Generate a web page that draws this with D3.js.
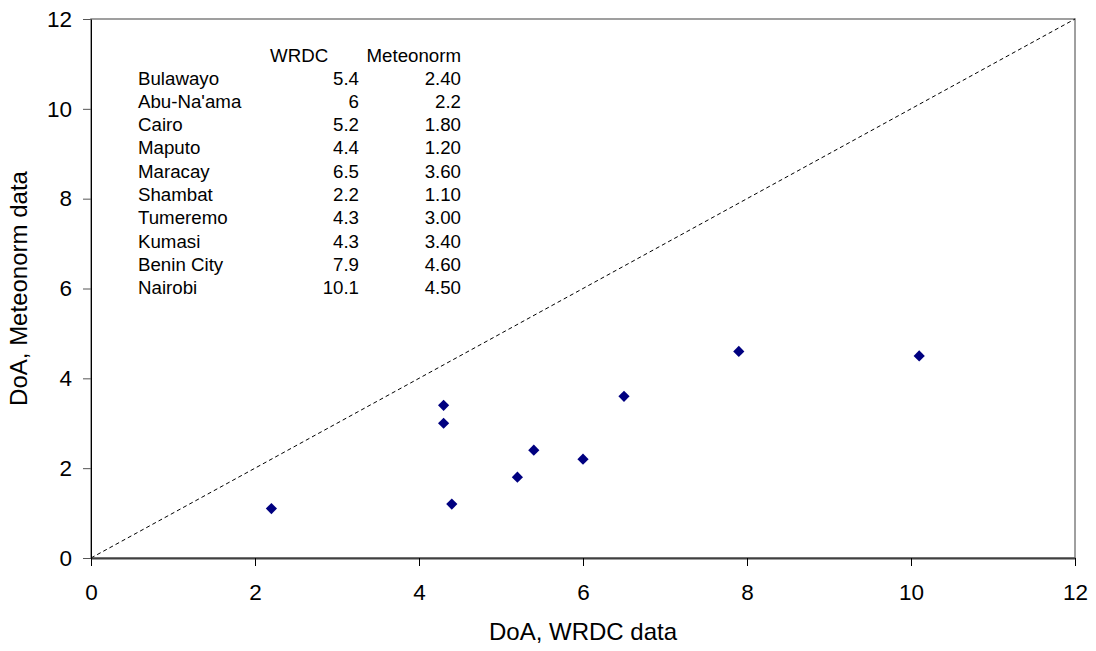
<!DOCTYPE html>
<html>
<head>
<meta charset="utf-8">
<script src="https://cdn.jsdelivr.net/npm/d3@7"></script>
<style>
  body { margin: 0; background: #fff; }
  svg { font-family: Arial, "Liberation Sans", sans-serif; }
</style>
</head>
<body>
<div id="chart"></div>
<script>
// stations and their DoA values
var stations = ["Bulawayo", "Abu-Na'ama", "Cairo", "Maputo", "Maracay", "Shambat", "Tumeremo", "Kumasi", "Benin City", "Nairobi"];
var wrdc = [5.4, 6, 5.2, 4.4, 6.5, 2.2, 4.3, 4.3, 7.9, 10.1];
var meteonorm = [2.4, 2.2, 1.8, 1.2, 3.6, 1.1, 3.0, 3.4, 4.6, 4.5];
var meteonormLabels = ["2.40", "2.2", "1.80", "1.20", "3.60", "1.10", "3.00", "3.40", "4.60", "4.50"];
var ticks = [0, 2, 4, 6, 8, 10, 12];
var diagonal = [0, 12];

var W = 1096, H = 651;
var margin = {left: 91, right: 21, top: 19, bottom: 93};
var width = W - margin.left - margin.right,
    height = H - margin.top - margin.bottom;

var x = d3.scaleLinear().domain([0, 12]).range([0, width]);
var y = d3.scaleLinear().domain([0, 12]).range([height, 0]);

var navy = "#000080";

var svg = d3.select("#chart").append("svg")
  .attr("width", W)
  .attr("height", H)
  .append("g")
    .attr("transform", "translate(" + margin.left + "," + margin.top + ")");

// plot area border
svg.append("rect")
  .attr("x", 0).attr("y", 0)
  .attr("width", width).attr("height", height)
  .style("fill", "none")
  .style("stroke", "#808080")
  .style("stroke-width", "1.5px");

// dashed 1:1 line
var line = d3.line()
  .x(function(d){ return x(d); })
  .y(function(d){ return y(d); });

svg.append("path")
  .datum(diagonal)
  .attr("d", line)
  .style("fill", "none")
  .style("stroke", "#000")
  .style("stroke-width", "1px")
  .style("stroke-dasharray", "4,3");

//Add the X Axis
var xAxis = svg.append("g")
  .attr("transform", "translate(0," + height + ")")
  .call(d3.axisBottom(x).tickValues(ticks).tickSize(8).tickSizeOuter(0).tickPadding(18));
xAxis.select(".domain").style("stroke", "#404040").style("stroke-width", "2px");
xAxis.selectAll("text").style("font-size", "22.5px").style("fill", "#000");

//Add the Y Axis
var yAxis = svg.append("g")
  .call(d3.axisLeft(y).tickValues(ticks).tickSize(8).tickSizeOuter(0).tickPadding(11));
yAxis.select(".domain").style("stroke", "#000");
yAxis.selectAll("line").style("stroke", "#555");
yAxis.selectAll("text").style("font-size", "22.5px").style("fill", "#000");

// points
svg.selectAll(".dot")
  .data(stations)
  .enter().append("path")
  .attr("class", "dot")
  .attr("d", d3.symbol().type(d3.symbolDiamond2).size(80))
  .attr("transform", function(d, i){ return "translate(" + x(wrdc[i]) + "," + y(meteonorm[i]) + ")"; })
  .style("fill", navy);

// data table inside the plot
var table = svg.append("g")
  .attr("transform", "translate(" + (-margin.left) + "," + (-margin.top) + ")")
  .style("font-size", "18.7px");

table.append("text").attr("x", 270).attr("y", 61.5).text("WRDC");
table.append("text").attr("x", 461).attr("y", 61.5).attr("text-anchor", "end").text("Meteonorm");

var rows = table.selectAll(".row")
  .data(stations)
  .enter().append("g")
  .attr("class", "row")
  .attr("transform", function(d, i){ return "translate(0," + (84.5 + i * 23.3) + ")"; });

rows.append("text").attr("x", 138).text(function(d){ return d; });
rows.append("text").attr("x", 359).attr("text-anchor", "end")
  .text(function(d, i){ return String(wrdc[i]); });
rows.append("text").attr("x", 461).attr("text-anchor", "end")
  .text(function(d, i){ return meteonormLabels[i]; });

//Label for Y axis
svg.append("text")
  .attr("transform", "rotate(-90)")
  .attr("x", 0 - (height / 2))
  .attr("y", 0 - margin.left + 27)
  .style("text-anchor", "middle")
  .style("font-size", "24px")
  .text("DoA, Meteonorm data");

//Label for X axis
svg.append("text")
  .attr("x", width / 2)
  .attr("y", height + 82)
  .style("text-anchor", "middle")
  .style("font-size", "24px")
  .text("DoA, WRDC data");
</script>
</body>
</html>
